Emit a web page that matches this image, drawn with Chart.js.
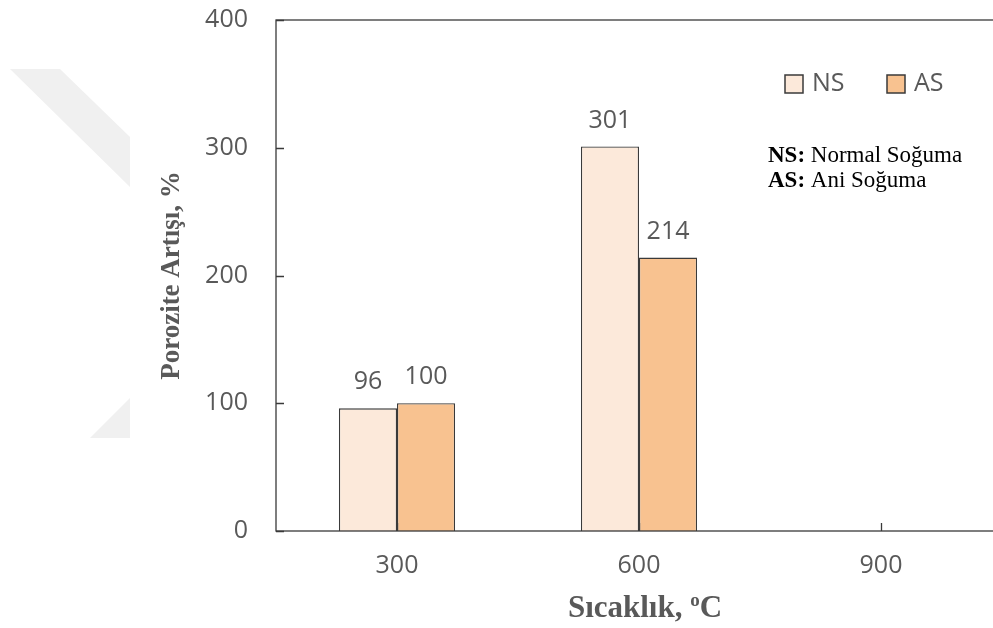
<!DOCTYPE html>
<html>
<head>
<meta charset="utf-8">
<script src="https://cdn.jsdelivr.net/npm/chart.js@4.4.1/dist/chart.umd.min.js"></script>
<style>
  html, body { margin: 0; padding: 0; background: #fff; overflow: hidden; }
  #wrap { position: relative; width: 1012px; height: 628px; }
</style>
</head>
<body>
<div id="wrap"><canvas id="c"></canvas></div>
<script>
// Temperatures (°C) on the category axis
const temperatures = ['300', '600', '900'];
// Porosity increase (%) after normal cooling
const nsValues = [96, 301, null];
// Porosity increase (%) after quenching
const asValues = [100, 214, null];
// Value axis ticks
const yTicks = [0, 100, 200, 300, 400];

const seriesNames = ['NS', 'AS'];
const notes = [['NS:', ' Normal Soğuma'], ['AS:', ' Ani Soğuma']];

const INK = '#595959';
const FRAME = '#3a3a3a';
const NUM_FONT = '25px "Open Sans"';

const framePlugin = {
  id: 'frame',
  beforeDraw(chart) {
    const ctx = chart.ctx;
    // faint background emblem
    ctx.save();
    ctx.fillStyle = '#f0f0f0';
    ctx.beginPath();
    ctx.moveTo(10, 69); ctx.lineTo(60, 69); ctx.lineTo(130, 137); ctx.lineTo(130, 187);
    ctx.closePath(); ctx.fill();
    ctx.beginPath();
    ctx.moveTo(90, 438); ctx.lineTo(130, 398); ctx.lineTo(130, 438);
    ctx.closePath(); ctx.fill();
    ctx.restore();
  },
  afterDatasetsDraw(chart) {
    const ctx = chart.ctx;
    const a = chart.chartArea;
    const x = chart.scales.x, y = chart.scales.y;
    ctx.save();
    // plot frame
    ctx.strokeStyle = FRAME;
    ctx.lineWidth = 1.3;
    ctx.strokeRect(a.left, a.top, a.right - a.left, a.bottom - a.top);
    // inward tick marks
    ctx.beginPath();
    yTicks.forEach(v => {
      const py = Math.round(y.getPixelForValue(v)) + 0.5;
      ctx.moveTo(a.left, py); ctx.lineTo(a.left + 8, py);
    });
    temperatures.forEach((t, i) => {
      const px = Math.round(x.getPixelForValue(i)) + 0.5;
      ctx.moveTo(px, a.bottom); ctx.lineTo(px, a.bottom - 8);
    });
    ctx.stroke();

    // value labels above bars
    ctx.fillStyle = INK;
    ctx.font = NUM_FONT;
    ctx.textAlign = 'center';
    ctx.textBaseline = 'middle';
    chart.data.datasets.forEach((ds, di) => {
      chart.getDatasetMeta(di).data.forEach((bar, i) => {
        const v = ds.data[i];
        if (v == null) return;
        ctx.fillText(String(v), bar.x, bar.y - 26);
      });
    });

    // legend
    const legendX = [785, 887];
    ctx.textAlign = 'left';
    chart.data.datasets.forEach((ds, di) => {
      const bx = legendX[di], by = 75;
      ctx.fillStyle = ds.backgroundColor;
      ctx.fillRect(bx, by, 18, 18);
      ctx.strokeStyle = FRAME;
      ctx.lineWidth = 1.5;
      ctx.strokeRect(bx, by, 18, 18);
      ctx.fillStyle = INK;
      ctx.font = '25px "Open Sans"';
      ctx.fillText(ds.label, bx + 27, by + 9);
    });

    // abbreviations note
    ctx.fillStyle = '#000';
    notes.forEach((n, i) => {
      const ny = 156 + i * 25;
      ctx.font = 'bold 23px "Liberation Serif"';
      ctx.fillText(n[0], 768, ny);
      const w = ctx.measureText(n[0]).width;
      ctx.font = '23px "Liberation Serif"';
      ctx.fillText(n[1], 768 + w, ny);
    });

    // axis titles
    ctx.fillStyle = INK;
    ctx.font = 'bold 27px "Liberation Serif"';
    ctx.save();
    ctx.translate(172, (a.top + a.bottom) / 2);
    ctx.rotate(-Math.PI / 2);
    ctx.textAlign = 'center';
    ctx.fillText('Porozite Artışı, %', 0, 0);
    ctx.restore();

    const xtMain = 'Sıcaklık, ', xtSup = 'o', xtUnit = 'C';
    const big = 'bold 31px "Liberation Serif"', small = 'bold 19px "Liberation Serif"';
    ctx.font = big;
    const w1 = ctx.measureText(xtMain).width;
    const w3 = ctx.measureText(xtUnit).width;
    ctx.font = small;
    const w2 = ctx.measureText(xtSup).width;
    const total = w1 + w2 + w3;
    const sx = (a.left + a.right) / 2 + 6 - total / 2;
    const baseY = 617;
    ctx.textBaseline = 'alphabetic';
    ctx.textAlign = 'left';
    ctx.font = big;
    ctx.fillText(xtMain, sx, baseY);
    ctx.font = small;
    ctx.fillText(xtSup, sx + w1, baseY - 11);
    ctx.font = big;
    ctx.fillText(xtUnit, sx + w1 + w2, baseY);
    ctx.restore();
  }
};

new Chart(document.getElementById('c'), {
  type: 'bar',
  data: {
    labels: temperatures,
    datasets: [
      { label: seriesNames[0], data: nsValues, backgroundColor: '#fce9da', borderColor: FRAME, borderWidth: 1.3 },
      { label: seriesNames[1], data: asValues, backgroundColor: '#f8c290', borderColor: FRAME, borderWidth: 1.3 }
    ]
  },
  options: {
    responsive: true,
    maintainAspectRatio: false,
    animation: false,
    events: [],
    layout: { padding: { left: 0, top: 20, right: 10, bottom: 0 } },
    datasets: { bar: { categoryPercentage: 0.48, barPercentage: 1.0 } },
    plugins: { legend: { display: false }, tooltip: { enabled: false } },
    scales: {
      x: {
        grid: { display: false, drawTicks: false },
        border: { display: false },
        ticks: { color: INK, font: { family: 'Open Sans', size: 25 }, padding: 20, maxRotation: 0 },
        afterFit(s) { s.height = 97; s.paddingLeft = 0; s.paddingRight = 0; }
      },
      y: {
        min: 0, max: 400,
        afterBuildTicks(s) { s.ticks = yTicks.map(v => ({ value: v })); },
        grid: { display: false, drawTicks: false },
        border: { display: false },
        ticks: { color: INK, font: { family: 'Open Sans', size: 25 }, padding: 28 },
        afterFit(s) { s.width = 276; s.paddingTop = 0; s.paddingBottom = 0; }
      }
    }
  },
  plugins: [framePlugin]
});
</script>
</body>
</html>
